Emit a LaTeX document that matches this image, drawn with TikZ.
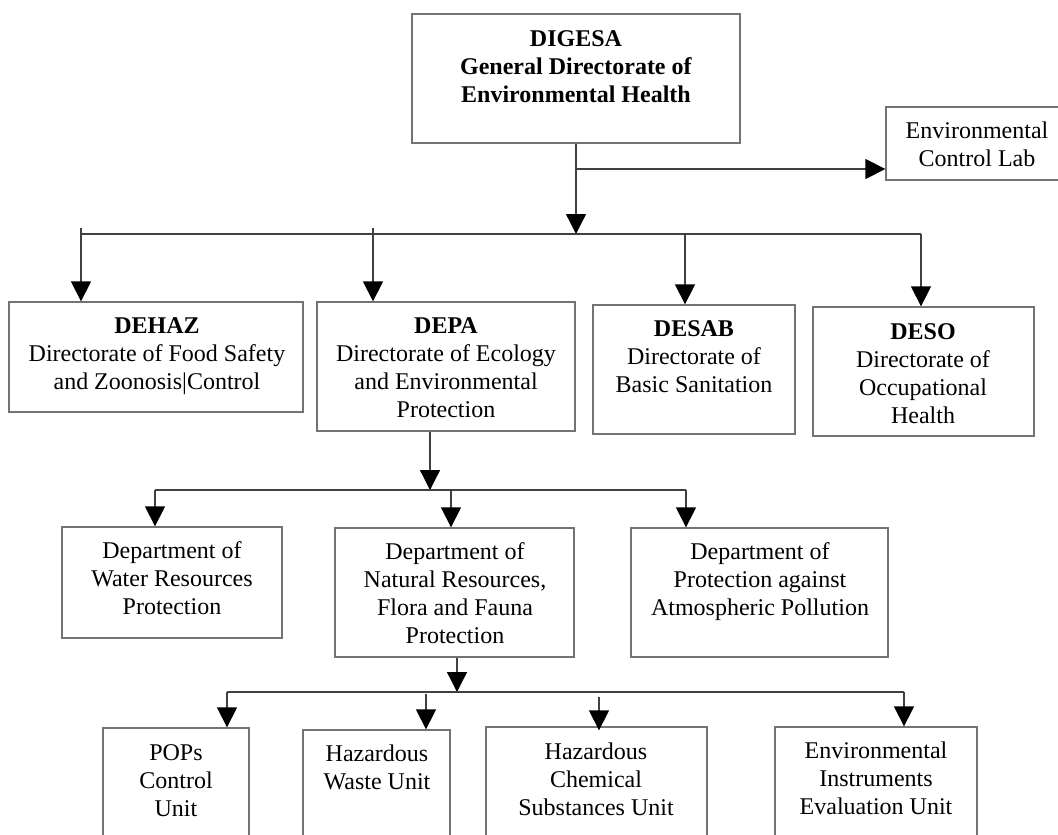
\documentclass[tikz,border=0pt]{standalone}
\usepackage{fontspec}
\setmainfont{Liberation Serif}
\usetikzlibrary{arrows.meta}
\tikzset{
  box/.style={draw=black!55, line width=1.3pt, rectangle, inner sep=0pt},
  txt/.style={align=center, inner sep=0pt, font=\fontsize{24}{28}\selectfont, anchor=base},
  conn/.style={draw=black!75, line width=1.3pt},
  bar/.style={draw=black!75, line width=1.7pt},
  arr/.style={conn, -{Triangle[length=20pt,width=20pt,color=black]}}
}
\newcommand{\mkbox}[5]{\node[box, minimum width={(#4)-(#2)}, minimum height={(#5)-(#3)}] (#1) at ({((#2)+(#4))/2},{((#3)+(#5))/2}) {};}
\begin{document}
\begin{tikzpicture}[x=1pt,y=-1pt]
\useasboundingbox (0,0) rectangle (1058,835);
\clip (0,0) rectangle (1058,835);
\fill[white] (0,0) rectangle (1058,835);
% boxes
\mkbox{digesa}{412}{14}{740}{143}
\mkbox{lab}{886}{107}{1070}{180}
\mkbox{dehaz}{9}{302}{303}{412}
\mkbox{depa}{317}{302}{575}{431}
\mkbox{desab}{593}{305}{795}{434}
\mkbox{deso}{813}{307}{1034}{436}
\mkbox{water}{62}{527}{282}{638}
\mkbox{natural}{335}{528}{574}{657}
\mkbox{atmos}{631}{528}{888}{657}
\mkbox{pops}{103}{728}{249}{860}
\mkbox{hazw}{303}{730}{450}{860}
\mkbox{hazc}{486}{727}{707}{860}
\mkbox{envi}{775}{727}{977}{860}
% texts (anchor = baseline of the last line)
\node[txt] (digesaT) at (576,102) {\textbf{DIGESA}\\\textbf{General Directorate of}\\\textbf{Environmental Health}};
\node[txt] (labT) at (977,166) {Environmental\\Control Lab};
\node[txt] (dehazT) at (157,389) {\textbf{DEHAZ}\\Directorate of Food Safety\\and Zoonosis|Control};
\node[txt] (depaT) at (446,417) {\textbf{DEPA}\\Directorate of Ecology\\and Environmental\\Protection};
\node[txt] (desabT) at (694,392) {\textbf{DESAB}\\Directorate of\\Basic Sanitation};
\node[txt] (desoT) at (923,423) {\textbf{DESO}\\Directorate of\\Occupational\\Health};
\node[txt] (waterT) at (172,614) {Department of\\Water Resources\\Protection};
\node[txt] (naturalT) at (455,643) {Department of\\Natural Resources,\\Flora and Fauna\\Protection};
\node[txt] (atmosT) at (760,615) {Department of\\Protection against\\Atmospheric Pollution};
\node[txt] (popsT) at (176,816) {POPs\\Control\\Unit};
\node[txt] (hazwT) at (377,789) {Hazardous\\Waste Unit};
\node[txt] (hazcT) at (596,815) {Hazardous\\Chemical\\Substances Unit};
\node[txt] (enviT) at (876,814) {Environmental\\Instruments\\Evaluation Unit};
% level 1 connectors
\coordinate (j1) at (576,169);
\coordinate (t0) at (576,234);
\coordinate (t1) at (80,234);
\coordinate (t4) at (921,234);
\coordinate (a1) at (81,228);
\coordinate (a2) at (373,228);
\coordinate (a3) at (685,234);
\draw[arr] (digesa.south -| t0) -- (t0);
\draw[arr] (j1) -- (j1 -| lab.west);
\draw[bar] (t1) -- (t4);
\draw[arr] (a1) -- (a1 |- dehaz.north);
\draw[arr] (a2) -- (a2 |- depa.north);
\draw[arr] (a3) -- (a3 |- desab.north);
\draw[arr] (t4) -- (t4 |- deso.north);
% level 2 connectors
\coordinate (m0) at (430,490);
\coordinate (c1) at (155,490);
\coordinate (c2) at (451,490);
\coordinate (c3) at (686,490);
\draw[arr] (depa.south -| m0) -- (m0);
\draw[bar] (c1) -- (c3);
\draw[arr] (c1) -- (c1 |- water.north);
\draw[arr] (c2) -- (c2 |- natural.north);
\draw[arr] (c3) -- (c3 |- atmos.north);
% level 3 connectors
\coordinate (n0) at (457,692);
\coordinate (d1) at (227,692);
\coordinate (d2) at (426,694);
\coordinate (d3) at (599,697);
\coordinate (d4) at (904,692);
\draw[arr] (natural.south -| n0) -- (n0);
\draw[bar] (d1) -- (d4);
\draw[arr] (d1) -- (d1 |- pops.north);
\draw[arr] (d2) -- (d2 |- hazw.north);
\draw[arr] (d3) -- ([yshift=-4pt]d3 |- hazc.north);
\draw[arr] (d4) -- (d4 |- envi.north);
\end{tikzpicture}
\end{document}
